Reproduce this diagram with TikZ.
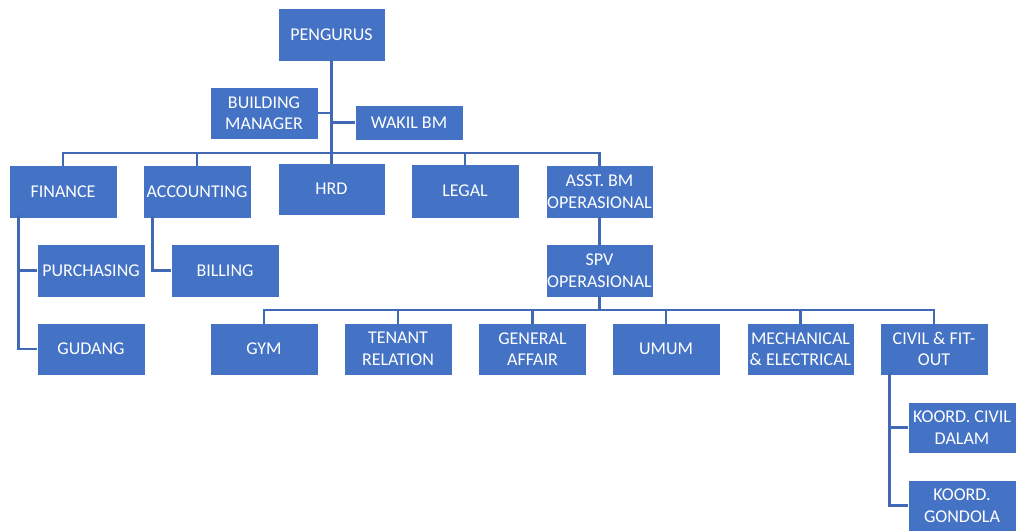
\documentclass[tikz,border=0pt]{standalone}
\usepackage{fontspec}
\setmainfont{Carlito}
\definecolor{boxblue}{HTML}{4472C4}
\definecolor{lineblue}{HTML}{4068B4}
\begin{document}
\begin{tikzpicture}[x=1pt,y=-1pt,
  box/.style={fill=boxblue,draw=white,line width=0.8pt,minimum width=108pt,minimum height=53pt,
    text=white,align=center,inner sep=0pt,font=\fontsize{18}{21.5}\selectfont},
  conn/.style={draw=lineblue,line width=2.5pt}]
\useasboundingbox (0,0) rectangle (1019,531);
\node[box,minimum width=107pt] (peng) at (331.5,34.5) {PENGURUS};
\node[box,minimum height=52pt] (bm) at (264,113) {BUILDING\\MANAGER};
\node[box,minimum height=35pt] (wakil) at (409,122.5) {WAKIL BM};
\node[box] (fin) at (63,191.5) {FINANCE};
\node[box] (acc) at (197,191.5) {ACCOUNTING};
\node[box,minimum width=107pt,minimum height=52pt] (hrd) at (331.5,189) {HRD};
\node[box,minimum height=54pt] (legal) at (465,191) {LEGAL};
\node[box,minimum width=107pt] (asst) at (599.5,191.5) {ASST. BM\\OPERASIONAL};
\node[box] (purch) at (91,270.5) {PURCHASING};
\node[box] (bill) at (225,270.5) {BILLING};
\node[box,minimum width=107pt] (spv) at (599.5,270.5) {SPV\\OPERASIONAL};
\node[box,minimum height=52pt] (gudang) at (91,349) {GUDANG};
\node[box,minimum height=52pt] (gym) at (264,349) {GYM};
\node[box,minimum height=52pt] (tenant) at (398,349) {TENANT\\RELATION};
\node[box,minimum height=52pt] (general) at (532.5,349) {GENERAL\\AFFAIR};
\node[box,minimum height=52pt] (umum) at (666,349) {UMUM};
\node[box,minimum height=52pt,minimum width=107pt] (mech) at (800.5,349) {MECHANICAL\\\&~ELECTRICAL};
\node[box,minimum height=52pt] (civil) at (934,349) {CIVIL \& FIT-\\OUT};
\node[box,minimum height=51pt] (kc) at (962,427.5) {KOORD. CIVIL\\DALAM};
\node[box,minimum height=51pt] (kg) at (962,505.5) {KOORD.\\GONDOLA};
\coordinate (bus1) at (0,153);
\coordinate (bus2) at (0,310);
% level 1
\draw[conn] ([yshift=1pt]peng.south) -- ([yshift=-1pt]hrd.north);
\draw[conn] (bm.east) -- (bm.east -| peng.south);
\draw[conn] (wakil.west) -- (wakil.west -| peng.south);
\draw[conn] ([yshift=-1pt]fin.north) |- (bus1 -| asst.north) -- ([yshift=-1pt]asst.north);
\draw[conn] ([yshift=-1pt]acc.north) -- (acc.north |- bus1);
\draw[conn] ([yshift=-1pt]legal.north) -- (legal.north |- bus1);
% finance / accounting
\draw[conn] ([xshift=10pt,yshift=3pt]fin.south west) |- (gudang.west);
\draw[conn] ([xshift=10pt]fin.south west |- purch.west) -- (purch.west);
\draw[conn] ([xshift=10pt,yshift=3pt]acc.south west) |- (bill.west);
% operasional
\draw[conn] ([yshift=1pt]asst.south) -- ([yshift=-1pt]spv.north);
\draw[conn] ([yshift=1pt]spv.south) -- (spv.south |- bus2);
\draw[conn] ([yshift=-1pt]gym.north) |- (bus2 -| civil.north) -- ([yshift=-1pt]civil.north);
\draw[conn] ([yshift=-1pt]tenant.north) -- (tenant.north |- bus2);
\draw[conn] ([yshift=-1pt]general.north) -- (general.north |- bus2);
\draw[conn] ([yshift=-1pt]umum.north) -- (umum.north |- bus2);
\draw[conn] ([yshift=-1pt]mech.north) -- (mech.north |- bus2);
% civil
\draw[conn] ([xshift=10pt,yshift=3pt]civil.south west) |- (kg.west);
\draw[conn] ([xshift=10pt]civil.south west |- kc.west) -- (kc.west);
\end{tikzpicture}
\end{document}
